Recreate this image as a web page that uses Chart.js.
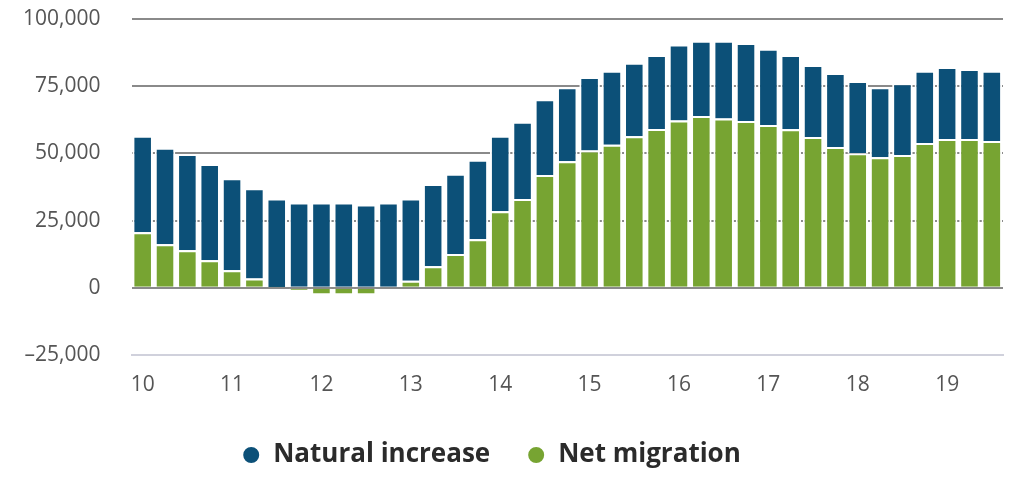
<!DOCTYPE html>
<html>
<head>
<meta charset="utf-8">
<script src="https://cdn.jsdelivr.net/npm/chart.js@4"></script>
<style>
html,body{margin:0;padding:0;background:#fff;}
#wrap{width:1024px;height:501px;position:relative;}
</style>
</head>
<body>
<div id="wrap"><canvas id="c" width="1024" height="501"></canvas></div>
<script>
const categories = [
  "2010 Q1","2010 Q2","2010 Q3","2010 Q4",
  "2011 Q1","2011 Q2","2011 Q3","2011 Q4",
  "2012 Q1","2012 Q2","2012 Q3","2012 Q4",
  "2013 Q1","2013 Q2","2013 Q3","2013 Q4",
  "2014 Q1","2014 Q2","2014 Q3","2014 Q4",
  "2015 Q1","2015 Q2","2015 Q3","2015 Q4",
  "2016 Q1","2016 Q2","2016 Q3","2016 Q4",
  "2017 Q1","2017 Q2","2017 Q3","2017 Q4",
  "2018 Q1","2018 Q2","2018 Q3","2018 Q4",
  "2019 Q1","2019 Q2","2019 Q3"
];
const yearTickLabels = ["10","11","12","13","14","15","16","17","18","19"];
const naturalIncrease = [
  35900,35900,35750,35850,
  34250,33500,32950,31750,
  31750,31750,31000,31750,
  30650,30600,29800,29500,
  28100,28750,28100,27500,
  27300,27500,27350,27500,
  28250,28000,28900,29000,
  28300,27600,26800,27500,
  26800,26000,26700,26850,
  26700,26000,26150
];
const netMigration = [
  20700,16200,14000,10250,
  6500,3500,300,-1100,
  -2750,-2750,-2750,0,
  2600,8000,12600,18100,
  28500,33000,42000,47100,
  51100,53250,56400,59100,
  62250,63900,63000,62100,
  60600,59000,56100,52400,
  50100,48600,49400,53900,
  55400,55400,54600
];
const yTickValues = [-25000,0,25000,50000,75000,100000];
const seriesNames = ["Natural increase","Net migration"];
const seriesColors = ["#0c5078","#77a432"];

const fontFamily = "'Open Sans', 'Noto Sans', sans-serif";

const legendShift = {
  id: 'legendShift',
  afterLayout: function(chart) {
    const lg = chart.legend;
    if (lg) { lg.left -= 10; lg.right -= 10; }
  }
};

new Chart(document.getElementById('c'), {
  type: 'bar',
  data: {
    labels: categories,
    datasets: [
      {
        label: seriesNames[1],
        data: netMigration,
        backgroundColor: seriesColors[1],
        borderColor: '#ffffff',
        borderWidth: 2,
        barPercentage: 0.92,
        categoryPercentage: 1.0
      },
      {
        label: seriesNames[0],
        data: naturalIncrease,
        backgroundColor: seriesColors[0],
        borderColor: '#ffffff',
        borderWidth: 2,
        barPercentage: 0.92,
        categoryPercentage: 1.0
      }
    ]
  },
  plugins: [legendShift],
  options: {
    responsive: false,
    animation: false,
    devicePixelRatio: 1,
    layout: { padding: { left: 0, right: 21, top: 0, bottom: 23 } },
    plugins: {
      tooltip: { enabled: false },
      legend: {
        position: 'bottom',
        reverse: true,
        labels: {
          usePointStyle: true,
          pointStyle: 'circle',
          pointStyleWidth: 18,
          boxHeight: 12.73,
          padding: 37,
          color: '#2b2b2b',
          font: { family: fontFamily, size: 26, weight: 'bold' }
        }
      }
    },
    scales: {
      x: {
        stacked: true,
        grid: { display: false, drawTicks: false },
        border: { display: true, color: '#d0d1dc', width: 2 },
        ticks: {
          autoSkip: false,
          maxRotation: 0,
          padding: 17,
          color: '#555555',
          font: { family: fontFamily, size: 21 },
          callback: function(v, i) { return i % 4 === 0 ? yearTickLabels[i / 4] : ''; }
        },
        afterFit: function(s) { s.height = 50; }
      },
      y: {
        stacked: true,
        min: yTickValues[0],
        max: yTickValues[yTickValues.length - 1],
        border: { display: false },
        grid: {
          drawTicks: false,
          lineWidth: 2,
          color: function(ctx) { return ctx.tick && ctx.tick.value === yTickValues[0] ? '#d0d1dc' : '#8a8a8a'; }
        },
        afterBuildTicks: function(s) { s.ticks = yTickValues.map(function(v){ return {value: v}; }); },
        ticks: {
          padding: 31,
          color: '#555555',
          font: { family: fontFamily, size: 21 },
          callback: function(v) {
            const s = Math.abs(v).toLocaleString('en-US');
            return v < 0 ? '\u2013' + s : s;
          }
        },
        afterFit: function(s) { s.width = 131.5; s.paddingTop = 19; s.paddingBottom = 0; }
      }
    }
  }
});
</script>
</body>
</html>
